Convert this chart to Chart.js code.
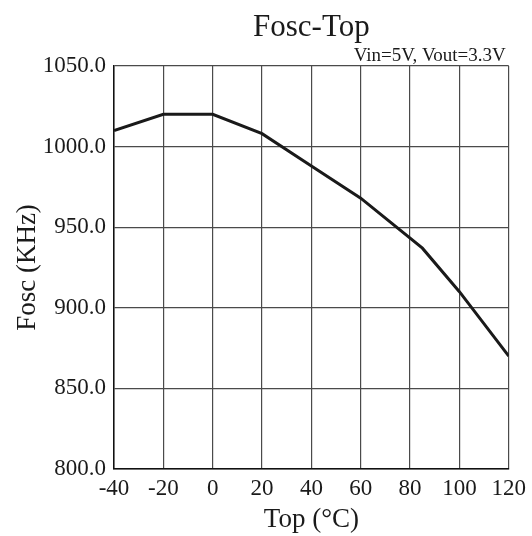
<!DOCTYPE html>
<html>
<head>
<meta charset="utf-8">
<script src="https://cdn.jsdelivr.net/npm/chart.js@4"></script>
<style>
  html, body { margin: 0; padding: 0; background: #fff; }
  #wrap { width: 532px; height: 536px; }
</style>
</head>
<body>
<div id="wrap"><canvas id="foscChart"></canvas></div>
<script>
// Fosc vs temperature //
const temps = [-40, -20, 0, 20, 40, 60, 85, 100, 120];
const fosc = [1010, 1020, 1020, 1008, 988, 968, 937, 910, 870];
const xTicks = [-40, -20, 0, 20, 40, 60, 80, 100, 120];
const yTicks = [800, 850, 900, 950, 1000, 1050];

const serif = 'Liberation Serif, Times New Roman, serif';

// title + condition note, centred on the plot area rather than the canvas
const titlePlugin = {
    id: 'titles',
    afterDraw(chart) {
        const { ctx, chartArea } = chart;
        ctx.save();
        ctx.fillStyle = '#1a1a1a';
        ctx.textBaseline = 'alphabetic';
        ctx.font = '31px ' + serif;
        ctx.textAlign = 'center';
        ctx.fillText('Fosc-Top', (chartArea.left + chartArea.right) / 2, 36);
        ctx.font = '19px ' + serif;
        ctx.textAlign = 'right';
        ctx.fillText('Vin=5V, Vout=3.3V', chartArea.right - 3, 61);
        ctx.restore();
    }
};

function renderFoscChart() {
    const points = temps.map((t, i) => ({ x: t, y: fosc[i] }));
    const ctx = document.getElementById('foscChart').getContext('2d');
    new Chart(ctx, {
        type: 'line',
        data: {
            datasets: [{
                data: points,
                borderColor: '#1a1a1a',
                borderWidth: 3,
                pointRadius: 0,
                tension: 0
            }]
        },
        options: {
            responsive: true,
            maintainAspectRatio: false,
            animation: false,
            layout: { padding: { top: 66, right: 22, left: 0, bottom: 0 } },
            plugins: { legend: { display: false }, tooltip: { enabled: false } },
            scales: {
                x: {
                    type: 'linear',
                    min: -40,
                    max: 120,
                    afterBuildTicks: s => { s.ticks = xTicks.map(v => ({ value: v })); },
                    afterFit: s => { s.height = 67; },
                    grid: { color: '#4a4a4a', lineWidth: 1.2, drawTicks: false },
                    border: { color: '#111', width: 1.5 },
                    ticks: { color: '#1a1a1a', font: { family: serif, size: 23 }, padding: 6, maxRotation: 0 },
                    title: { display: true, text: 'Top (°C)', color: '#1a1a1a', font: { family: serif, size: 27 }, padding: { top: 0, bottom: 0 } }
                },
                y: {
                    min: 800,
                    max: 1050,
                    afterBuildTicks: s => { s.ticks = yTicks.map(v => ({ value: v })); },
                    afterFit: s => { s.width = 114; },
                    grid: { color: '#4a4a4a', lineWidth: 1.2, drawTicks: false },
                    border: { color: '#111', width: 1.5 },
                    ticks: { color: '#1a1a1a', font: { family: serif, size: 23 }, padding: 8, callback: v => v.toFixed(1) },
                    title: { display: true, text: 'Fosc (KHz)', color: '#1a1a1a', font: { family: serif, size: 27 }, padding: { top: 12, bottom: 0 } }
                }
            }
        },
        plugins: [titlePlugin]
    });
}

document.addEventListener('DOMContentLoaded', renderFoscChart);
</script>
</body>
</html>
